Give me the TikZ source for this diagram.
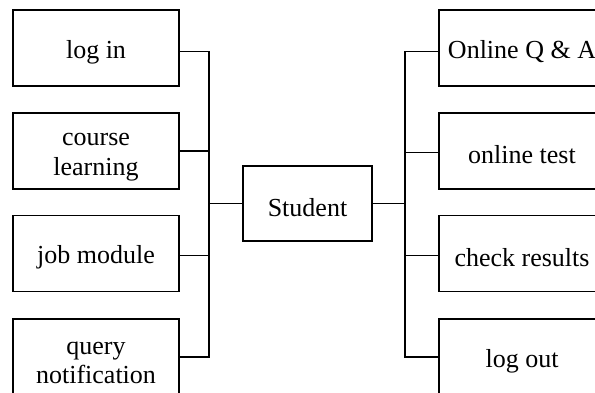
\documentclass[tikz,border=0pt]{standalone}
\usepackage{fontspec}
\setmainfont{Liberation Serif}
\begin{document}
\begin{tikzpicture}[x=1pt,y=-1pt,
  box/.style={draw=black, line width=1.5pt, rectangle, inner sep=0pt,
    minimum width=166pt, minimum height=76pt},
  hub/.style={draw=black, line width=1.5pt, rectangle, inner sep=0pt,
    minimum width=129pt, minimum height=75pt},
  lbl/.style={inner sep=0pt, align=center,
    font=\fontsize{26}{29.5}\selectfont},
  one/.style={label={[lbl,yshift=-4pt]center:#1}},
  two/.style={label={[lbl,yshift=-6pt]center:#1}},
  link/.style={draw=black, line width=1.5pt}]
\useasboundingbox (0,0) rectangle (595,392);
\clip (0,0) rectangle (595,392);
\fill[white] (0,0) rectangle (595,392);

% central node
\node[hub, one=Student] (student) at (307.5,203.5) {};

% left column
\node[box, one={log in}]               (login)  at (96,48)    {};
\node[box, two={course\\learning}]     (course) at (96,151)   {};
\node[box, one={job module}]           (job)    at (96,253.5) {};
\node[box, two={query\\notification}]  (query)  at (96,357)   {};

% right column
\node[box, one={Online Q \& A}]  (qa)     at (522,48)    {};
\node[box, one={online test}]    (test)   at (522,151)   {};
\node[box, one={check results}]  (check)  at (522,253.5) {};
\node[box, one={log out}]        (logout) at (522,357)   {};

% trunk junctions, level with the central node
\coordinate (hubL) at (209,203.5);
\coordinate (hubR) at (405,203.5);

\draw[link] ([yshift=-3.5pt]login.east) -| (hubL);
\draw[link] (course.east) -| (hubL);
\draw[link] ([yshift=-2pt]job.east) -| (hubL);
\draw[link] (query.east)  -| (hubL);
\draw[link] (hubL) -- (student.west);

\draw[link] ([yshift=-3.5pt]qa.west) -| (hubR);
\draw[link] ([yshift=-1.5pt]test.west) -| (hubR);
\draw[link] ([yshift=-2pt]check.west) -| (hubR);
\draw[link] (logout.west) -| (hubR);
\draw[link] (student.east) -- (hubR);
\end{tikzpicture}
\end{document}
